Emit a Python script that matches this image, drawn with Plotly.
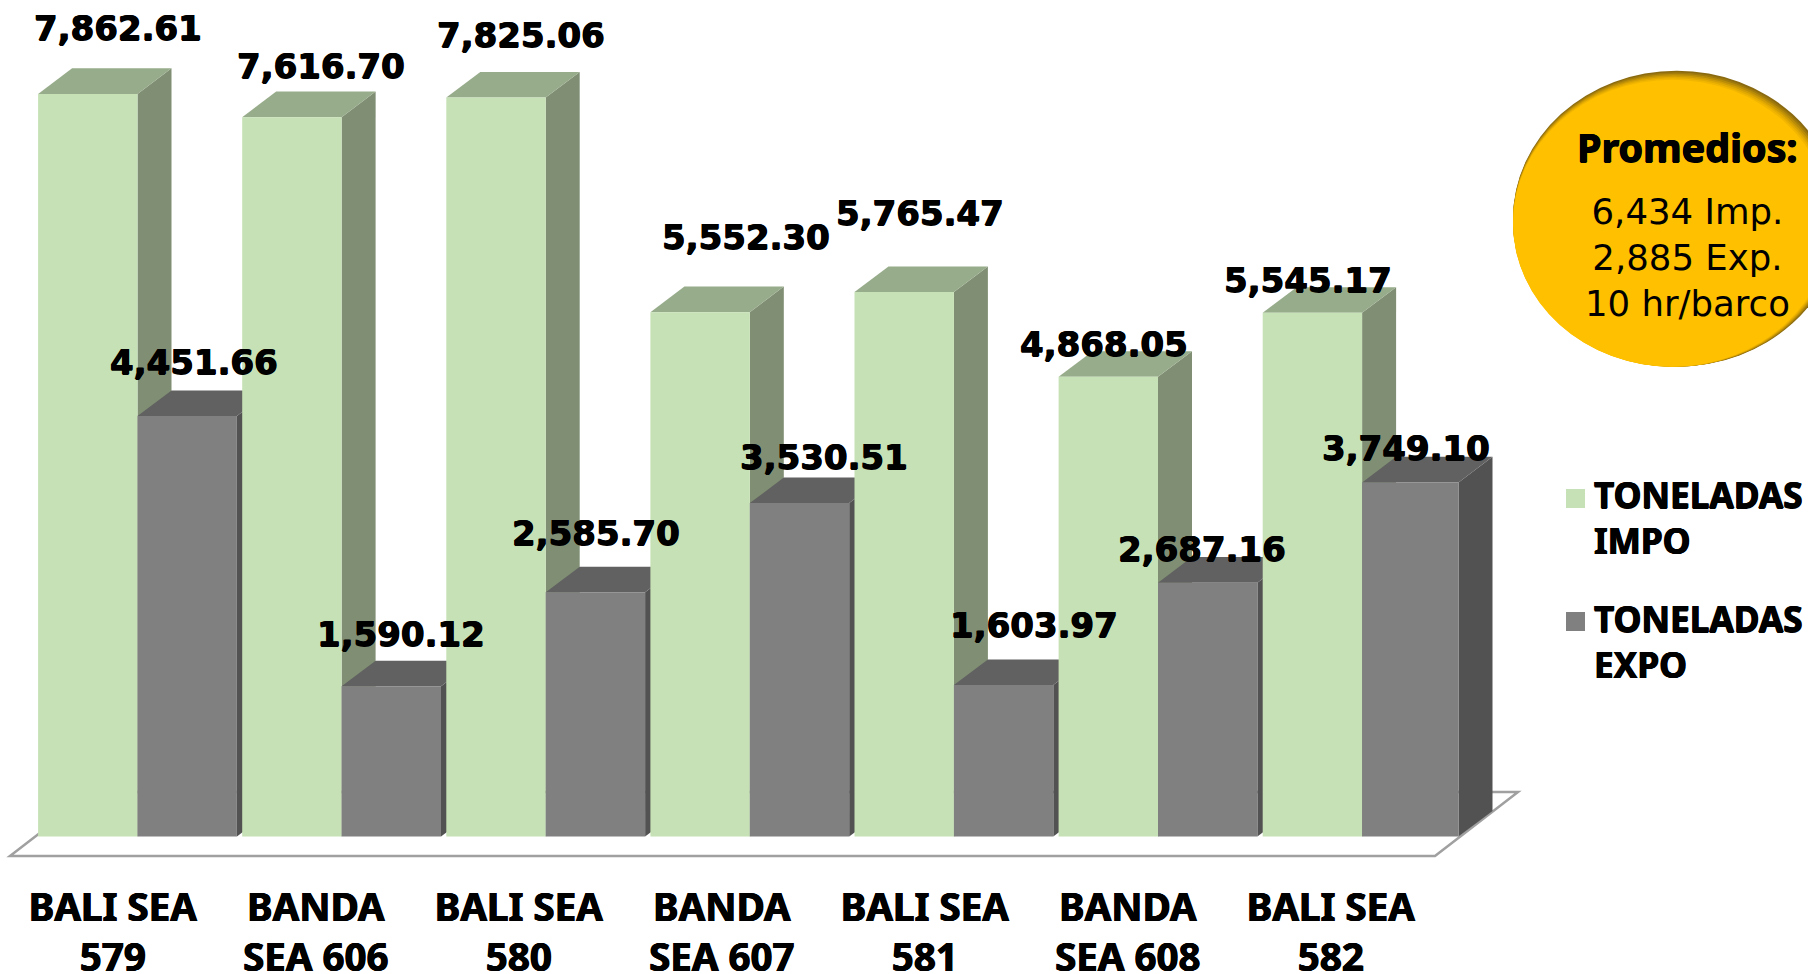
import plotly.graph_objects as go

# ---- data ----
CATEGORIES = ["BALI SEA<br>579", "BANDA<br>SEA 606", "BALI SEA<br>580", "BANDA<br>SEA 607",
              "BALI SEA<br>581", "BANDA<br>SEA 608", "BALI SEA<br>582"]
IMPO = [7862.61, 7616.70, 7825.06, 5552.30, 5765.47, 4868.05, 5545.17]
EXPO = [4451.66, 1590.12, 2585.70, 3530.51, 1603.97, 2687.16, 3749.10]
SERIES_NAMES = ["TONELADAS<br>IMPO", "TONELADAS<br>EXPO"]
NOTE_TITLE = "Promedios:"
NOTE_LINES = ["6,434 Imp.", "2,885 Exp.", "10 hr/barco"]

# ---- label nudges (px, relative to the front-top centre of each bar) ----
IMPO_LABEL_DX = [30, 28.7, 25, 46, 15.7, -4.2, -4.2]
IMPO_LABEL_DY = [66, 51.5, 63, 75.6, 78.7, 33.2, 32.8]
EXPO_LABEL_DX = [7.2, 9.7, 0.7, 24, 30.7, -5.7, -5.6]
EXPO_LABEL_DY = [54.3, 52.3, 59.6, 46.5, 60, 33.7, 34]

# ---- geometry ----
W, H = 1808, 974
MARGIN_B = 114
PLOT_H = H - MARGIN_B
PITCH = 204.1            # px per category
ORIGIN_X = 137.5         # px of the import/export boundary of first category
BASE_Y = 836.5           # px of value 0
PX_PER_UNIT = 0.09444
BAR_W = 99.4 / PITCH
LAST_EXPO_W = 96.4 / PITCH
DEPTH_X = 34 / PITCH
DEPTH_Y = 25.6 / PX_PER_UNIT

IMPO_FRONT, IMPO_TOP, IMPO_SIDE = "#C6E1B5", "#97AC8A", "#808F74"
EXPO_FRONT, EXPO_TOP, EXPO_SIDE = "#808080", "#616161", "#525252"
GOLD = "#FFC000"
BOLD = "Noto Sans"
LABEL_FONT = "DejaVu Sans"
HEAVY = "0.6px 0 0 black, -0.6px 0 0 black, 0 0.5px 0 black"


def px(xp):
    return xp / W


def py(yp):
    return 1 - yp / PLOT_H


fig = go.Figure()
z = [1]


def poly(xs, ys, color):
    fig.add_trace(go.Scatter(x=xs, y=ys, mode="lines", fill="toself", fillcolor=color,
                             line=dict(width=0, color=color), hoverinfo="skip",
                             showlegend=False, zorder=z[0]))
    z[0] += 1


def bar3d(i, value, x0, width, front, top, side, name):
    x1 = x0 + width
    poly([x1, x1 + DEPTH_X, x1 + DEPTH_X, x1, x1],
         [0, DEPTH_Y, value + DEPTH_Y, value, 0], side)
    poly([x0, x0 + DEPTH_X, x1 + DEPTH_X, x1, x0],
         [value, value + DEPTH_Y, value + DEPTH_Y, value, value], top)
    fig.add_trace(go.Bar(x=[i], y=[value], width=[width], offset=[x0 - i], name=name,
                         marker=dict(color=front, line=dict(width=0)),
                         showlegend=False, zorder=z[0]))
    z[0] += 1


for i in range(len(CATEGORIES)):
    bar3d(i, IMPO[i], i - BAR_W, BAR_W, IMPO_FRONT, IMPO_TOP, IMPO_SIDE, SERIES_NAMES[0])
    w = LAST_EXPO_W if i == len(CATEGORIES) - 1 else BAR_W
    bar3d(i, EXPO[i], i, w, EXPO_FRONT, EXPO_TOP, EXPO_SIDE, SERIES_NAMES[1])

annotations = []
LABEL = dict(family=LABEL_FONT, size=34, color="black", weight="bold", shadow=HEAVY)
for i in range(len(CATEGORIES)):
    annotations.append(dict(x=i - BAR_W / 2, y=IMPO[i], xref="x", yref="y",
                            text=f"{IMPO[i]:,.2f}", showarrow=False, xanchor="center", yanchor="middle",
                            xshift=IMPO_LABEL_DX[i], yshift=IMPO_LABEL_DY[i], font=LABEL))
    annotations.append(dict(x=i + BAR_W / 2, y=EXPO[i], xref="x", yref="y",
                            text=f"{EXPO[i]:,.2f}", showarrow=False, xanchor="center", yanchor="middle",
                            xshift=EXPO_LABEL_DX[i], yshift=EXPO_LABEL_DY[i], font=LABEL))


def page_text(text, xp, yp, font, xanchor="center", align="center"):
    annotations.append(dict(x=px(xp), y=py(yp), xref="paper", yref="paper", text=text, showarrow=False,
                            xanchor=xanchor, yanchor="middle", align=align, font=font))


page_text(NOTE_TITLE, 1687.8, 147.5, dict(family=BOLD, size=39.5, color="black", weight="bold", shadow=HEAVY))
page_text("<br>".join(NOTE_LINES), 1687.8, 257, dict(family="DejaVu Sans", size=35.5, color="black"))
LEG = dict(family=BOLD, size=35.2, color="black", weight="bold", shadow=HEAVY)
page_text(SERIES_NAMES[0], 1592, 516.5, LEG, "left", "left")
page_text(SERIES_NAMES[1], 1592, 640.5, LEG, "left", "left")

shapes = []
# floor
floor = [(10, 856), (1435, 856), (1518, 792), (93, 792)]
path = "M " + " L ".join(f"{px(a):.5f} {py(b):.5f}" for a, b in floor) + " Z"
shapes.append(dict(type="path", path=path, xref="paper", yref="paper", layer="below",
                   line=dict(color="#A0A0A0", width=2.5), fillcolor="white"))
# legend swatches
for y0, col in [(489, IMPO_FRONT), (612, EXPO_FRONT)]:
    shapes.append(dict(type="rect", xref="paper", yref="paper", x0=px(1566), x1=px(1585),
                       y0=py(y0), y1=py(y0 + 19), fillcolor=col, line=dict(width=0)))
# gold ellipse with soft inner shadow along the top edge
shadow_cols = ["#8A6A10", "#A07A0C", "#B98C08", "#D09C05", "#E3AB02", "#F2B600", GOLD]
for k, col in enumerate(shadow_cols):
    shapes.append(dict(type="circle", xref="paper", yref="paper",
                       x0=px(1513), x1=px(1840.5 - k * 1.6), y0=py(70.7 + k * 1.5), y1=py(366.7),
                       fillcolor=col, line=dict(width=0)))

TICKS = [(112.8 + 203 * i - ORIGIN_X) / PITCH for i in range(len(CATEGORIES))]

fig.update_layout(
    width=W, height=H, margin=dict(l=0, r=0, t=0, b=MARGIN_B, pad=0),
    paper_bgcolor="white", plot_bgcolor="rgba(0,0,0,0)", barmode="overlay", showlegend=False,
    annotations=annotations, shapes=shapes,
    xaxis=dict(range=[-ORIGIN_X / PITCH, (W - ORIGIN_X) / PITCH], tickmode="array", tickvals=TICKS,
               ticktext=CATEGORIES, ticks="", ticklen=0, showgrid=False, zeroline=False, showline=False,
               tickangle=0, ticklabelstandoff=21, automargin=False,
               tickfont=dict(family=BOLD, size=38.5, color="black", weight="bold", shadow=HEAVY)),
    yaxis=dict(range=[-(PLOT_H - BASE_Y) / PX_PER_UNIT, BASE_Y / PX_PER_UNIT], visible=False, automargin=False),
)

fig.write_html("out.html", config={"displayModeBar": False},
               post_script="document.body.style.margin='0';document.body.style.overflow='hidden';")
